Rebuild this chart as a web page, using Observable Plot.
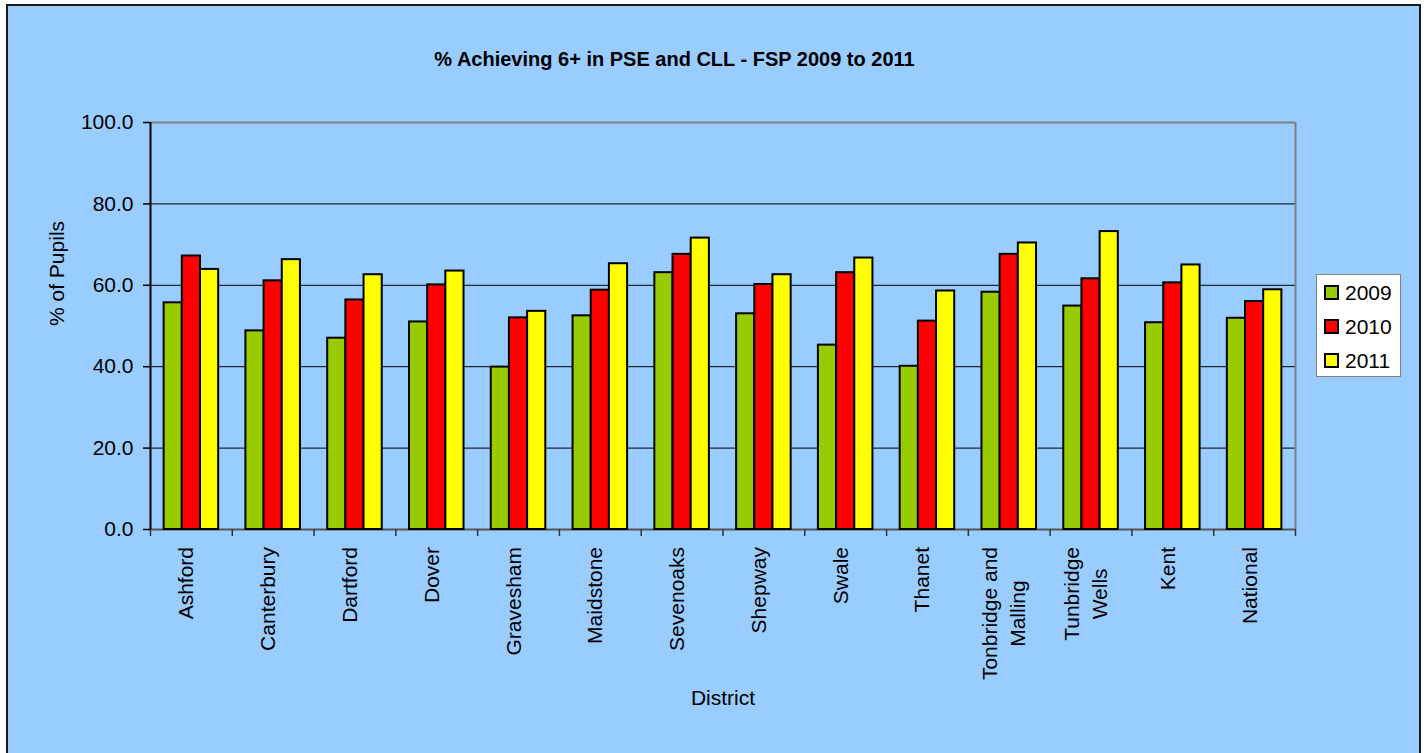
<!DOCTYPE html>
<html>
<head>
<meta charset="utf-8">
<script src="https://cdn.jsdelivr.net/npm/d3@7"></script>
<script src="https://cdn.jsdelivr.net/npm/@observablehq/plot@0.6"></script>
<style>
  body { margin: 0; background: #ffffff; }
  #wrap { position: relative; width: 1424px; height: 753px; overflow: hidden; font-family: "Liberation Sans", Arial, sans-serif; }
  #panel { position: absolute; left: 6px; top: 4px; width: 1415px; height: 800px; background: #99CCFF; border: 2px solid #1a1a1a; box-sizing: border-box; }
  #chart { position: absolute; left: 0; top: 0; }
  #legend { position: absolute; left: 1316px; top: 274px; width: 85px; height: 103px; background: #ffffff; border: 1px solid #808080; box-sizing: border-box; }
  .lg-row { position: absolute; left: 7px; height: 15px; display: flex; align-items: center; }
  .lg-sw { width: 15px; height: 15px; border: 2px solid #000; box-sizing: border-box; }
  .lg-tx { margin-left: 6px; font-size: 21px; color: #000; line-height: 15px; }
</style>
</head>
<body>
<div id="wrap">
  <div id="panel"></div>
  <div id="chart"></div>
  <div id="legend"></div>
</div>
<script>
// ---- data ----
const districts = ["Ashford", "Canterbury", "Dartford", "Dover", "Gravesham", "Maidstone", "Sevenoaks", "Shepway", "Swale", "Thanet", "Tonbridge and\nMalling", "Tunbridge\nWells", "Kent", "National"];
const years = ["2009", "2010", "2011"];
const v2009 = [55.7, 48.8, 47.0, 51.0, 39.9, 52.5, 63.1, 53.0, 45.3, 40.1, 58.3, 54.9, 50.8, 51.9];
const v2010 = [67.2, 61.1, 56.4, 60.1, 52.0, 58.8, 67.6, 60.2, 63.1, 51.2, 67.6, 61.6, 60.6, 56.0];
const v2011 = [63.9, 66.3, 62.6, 63.5, 53.6, 65.3, 71.6, 62.6, 66.7, 58.6, 70.4, 73.2, 65.0, 58.9];
const yTicks = [0, 20, 40, 60, 80, 100];
const gridTicks = [20, 40, 60, 80];
const colors = ["#99CC00", "#FF0000", "#FFFF00"];
const titleText = "% Achieving 6+ in PSE and CLL - FSP 2009 to 2011";
const yLabel = "% of Pupils";
const xLabel = "District";

// ---- table ----
const series = [v2009, v2010, v2011];
const rows = [];
years.forEach((yr, i) => districts.forEach((d, j) => rows.push({district: d, year: yr, value: series[i][j]})));

// ---- layout ----
const W = 1424, H = 753;
const mL = 150, mR = 129, mT = 122, mB = 224;
const step = (W - mL - mR) / districts.length;
const bw = step * 2 / 3;
const lineGap = 28;
const font = '"Liberation Sans", Arial, sans-serif';
const ctx = document.createElement("canvas").getContext("2d");
ctx.font = `21px "Liberation Sans"`;
const maxW = (s) => Math.max(...s.split("\n").map(l => ctx.measureText(l).width));

const barMarks = years.map((yr, i) =>
  Plot.barY(rows.filter(r => r.year === yr), {
    x: "district", y: "value", fill: "year",
    stroke: "#000", strokeWidth: 2,
    insetLeft: i * bw / 3, insetRight: (2 - i) * bw / 3
  })
);

// category labels: one text mark per line, centred on the band
const labelMarks = [];
districts.forEach(d => {
  const lines = d.split("\n");
  const n = lines.length;
  const w = maxW(d);
  lines.forEach((line, k) => {
    labelMarks.push(Plot.text([d], {
      x: v => v, text: () => line, frameAnchor: "bottom", rotate: -90,
      textAnchor: "middle",
      dx: 2 + (k - (n - 1) / 2) * lineGap,
      dy: 17.5 + w / 2, fontSize: 21, fill: "#000"
    }));
  });
});

const chart = Plot.plot({
  width: W, height: H,
  marginLeft: mL, marginRight: mR, marginTop: mT, marginBottom: mB,
  style: {background: "transparent", fontFamily: font, fontSize: "21px", color: "#000", overflow: "visible"},
  x: {type: "band", domain: districts, paddingInner: 1 / 3, paddingOuter: 1 / 6, align: 0.5, round: false, axis: null},
  y: {domain: [0, 100], axis: null},
  color: {domain: years, range: colors},
  marks: [
    Plot.ruleY(gridTicks, {stroke: "#000", strokeWidth: 1}),
    Plot.ruleY([100], {stroke: "#808080", strokeWidth: 2}),
    Plot.ruleX([districts[districts.length - 1]], {x: d => d, dx: step / 2, stroke: "#808080", strokeWidth: 2}),
    Plot.ruleY([0], {stroke: "#555", strokeWidth: 2}),
    ...barMarks,
    Plot.ruleX([districts[0]], {x: d => d, dx: -step / 2, stroke: "#000", strokeWidth: 2}),
    Plot.ruleX(districts, {x: d => d, dx: -step / 2, y1: 0, y2: 0, insetBottom: -7, stroke: "#333", strokeWidth: 1.5}),
    Plot.ruleX([districts[districts.length - 1]], {x: d => d, dx: step / 2, y1: 0, y2: 0, insetBottom: -7, stroke: "#333", strokeWidth: 1.5}),
    Plot.axisY({ticks: yTicks, tickFormat: d => d.toFixed(1), tickSize: 7, tickPadding: 10, label: null, fontSize: 21, stroke: "#000", strokeWidth: 1.5}),
    ...labelMarks,
    Plot.text([yLabel], {text: d => d, frameAnchor: "left", rotate: -90, dx: -93, fontSize: 21, fill: "#000"}),
    Plot.text([xLabel], {text: d => d, frameAnchor: "bottom", dy: 175, fontSize: 21, fill: "#000"}),
    Plot.text([titleText], {text: d => d, frameAnchor: "top", dx: -48.5, dy: -71, fontSize: 20, fontWeight: "bold", fill: "#000"})
  ]
});
document.getElementById("chart").appendChild(chart);

// ---- legend ----
const legend = document.getElementById("legend");
years.forEach((yr, i) => {
  const row = document.createElement("div");
  row.className = "lg-row";
  row.style.top = (10 + i * 34) + "px";
  const sw = document.createElement("div");
  sw.className = "lg-sw";
  sw.style.background = colors[i];
  const tx = document.createElement("span");
  tx.className = "lg-tx";
  tx.textContent = yr;
  row.appendChild(sw);
  row.appendChild(tx);
  legend.appendChild(row);
});
</script>
</body>
</html>
